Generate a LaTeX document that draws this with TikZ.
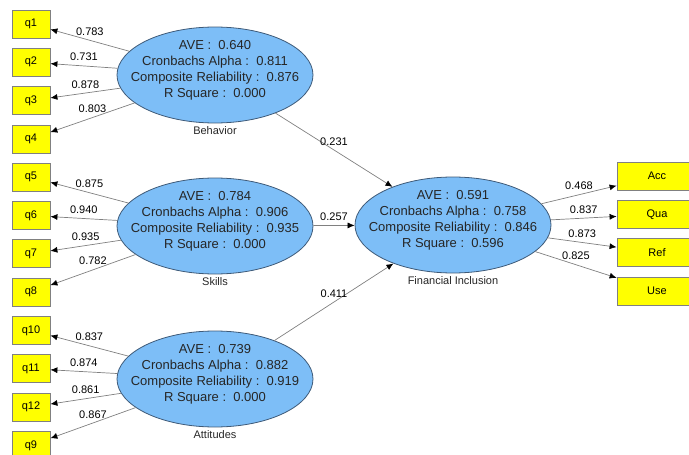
\documentclass[tikz,border=0pt]{standalone}
\usepackage{fontspec}
\setmainfont{Liberation Sans}
\usepackage{tikz}
\usetikzlibrary{shapes.geometric, arrows.meta, positioning}

\definecolor{lvblue}{HTML}{7DBEF7}
\definecolor{lvborder}{HTML}{3E5A78}
\definecolor{mvyellow}{HTML}{FFFF00}

\begin{document}
\begin{tikzpicture}[
			x=1pt, y=-1pt,
			node distance=9.5pt and 0pt,
			latent/.style={ellipse, draw=lvborder, fill=lvblue, line width=0.8pt, minimum width=196pt, minimum height=96pt, inner sep=0pt},
			stats/.style={align=center, font=\fontsize{13}{16}\selectfont, text=black!85},
			lvname/.style={font=\fontsize{11}{13}\selectfont, text=black!85, inner sep=2pt},
			indicator/.style={draw=gray, fill=mvyellow, line width=0.8pt, minimum width=38pt, minimum height=28pt, inner sep=0pt, font=\fontsize{11}{13}\selectfont},
			outind/.style={indicator, minimum width=80pt},
			arrow/.style={draw=gray, line width=0.7pt, -{Latex[length=7pt, width=6pt, color=black]}},
			weight/.style={font=\fontsize{11}{13}\selectfont, text=black, inner sep=4.5pt}
			]
			\useasboundingbox (0,0) rectangle (689,455);
			
			% Latent variables
			\node (beh) [latent] at (215,75) {};
			\node (ski) [latent] at (215,226) {};
			\node (att) [latent] at (215,379) {};
			\node (fin) [latent] at (453,225) {};
			
			\node (beh_stats) [stats] at ([yshift=5pt]beh.center) {AVE :~~0.640\\Cronbachs Alpha :~~0.811\\Composite Reliability :~~0.876\\R Square :~~0.000};
			\node (ski_stats) [stats] at ([yshift=5pt]ski.center) {AVE :~~0.784\\Cronbachs Alpha :~~0.906\\Composite Reliability :~~0.935\\R Square :~~0.000};
			\node (att_stats) [stats] at ([yshift=5pt]att.center) {AVE :~~0.739\\Cronbachs Alpha :~~0.882\\Composite Reliability :~~0.919\\R Square :~~0.000};
			\node (fin_stats) [stats] at ([yshift=5pt]fin.center) {AVE :~~0.591\\Cronbachs Alpha :~~0.758\\Composite Reliability :~~0.846\\R Square :~~0.596};
			
			\node (beh_name) [lvname, below=1pt of beh.south] {Behavior};
			\node (ski_name) [lvname, below=1pt of ski.south] {Skills};
			\node (att_name) [lvname, below=1pt of att.south] {Attitudes};
			\node (fin_name) [lvname, below=1pt of fin.south] {Financial Inclusion};
			
			% Indicators
			\node (q1) [indicator] at (31,24) {q1};
			\node (q2) [indicator, below=of q1] {q2};
			\node (q3) [indicator, below=of q2] {q3};
			\node (q4) [indicator, below=of q3] {q4};
			\node (q5) [indicator, below=of q4] {q5};
			\node (q6) [indicator, below=of q5] {q6};
			\node (q7) [indicator, below=of q6] {q7};
			\node (q8) [indicator, below=of q7] {q8};
			\node (q10) [indicator, below=of q8] {q10};
			\node (q11) [indicator, below=of q10] {q11};
			\node (q12) [indicator, below=of q11] {q12};
			\node (q9) [indicator, below=of q12] {q9};
			
			\node (acc) [outind] at (657,176) {Acc};
			\node (qua) [outind, below=of acc] {Qua};
			\node (ref) [outind, below=of qua] {Ref};
			\node (use) [outind, below=of ref] {Use};
			
			% Outer loadings
			\draw [arrow] (beh) -- node[weight, midway, above] {0.783} (q1);
			\draw [arrow] (beh) -- node[weight, midway, above] {0.731} (q2);
			\draw [arrow] (beh) -- node[weight, midway, above] {0.878} (q3);
			\draw [arrow] (beh) -- node[weight, midway, above] {0.803} (q4);
			
			\draw [arrow] (ski) -- node[weight, midway, above] {0.875} (q5);
			\draw [arrow] (ski) -- node[weight, midway, above] {0.940} (q6);
			\draw [arrow] (ski) -- node[weight, midway, above] {0.935} (q7);
			\draw [arrow] (ski) -- node[weight, midway, above] {0.782} (q8);
			
			\draw [arrow] (att) -- node[weight, midway, above] {0.837} (q10);
			\draw [arrow] (att) -- node[weight, midway, above] {0.874} (q11);
			\draw [arrow] (att) -- node[weight, midway, above] {0.861} (q12);
			\draw [arrow] (att) -- node[weight, midway, above] {0.867} (q9);
			
			\draw [arrow] (fin) -- node[weight, midway, above] {0.468} (acc);
			\draw [arrow] (fin) -- node[weight, midway, above] {0.837} (qua);
			\draw [arrow] (fin) -- node[weight, midway, above] {0.873} (ref);
			\draw [arrow] (fin) -- node[weight, midway, above] {0.825} (use);
			
			% Path coefficients
			\draw [arrow] (beh) -- node[weight, midway, above] {0.231} (fin);
			\draw [arrow] (ski) -- node[weight, midway, above] {0.257} (fin);
			\draw [arrow] (att) -- node[weight, midway, above] {0.411} (fin);
			
		\end{tikzpicture}
\end{document}
